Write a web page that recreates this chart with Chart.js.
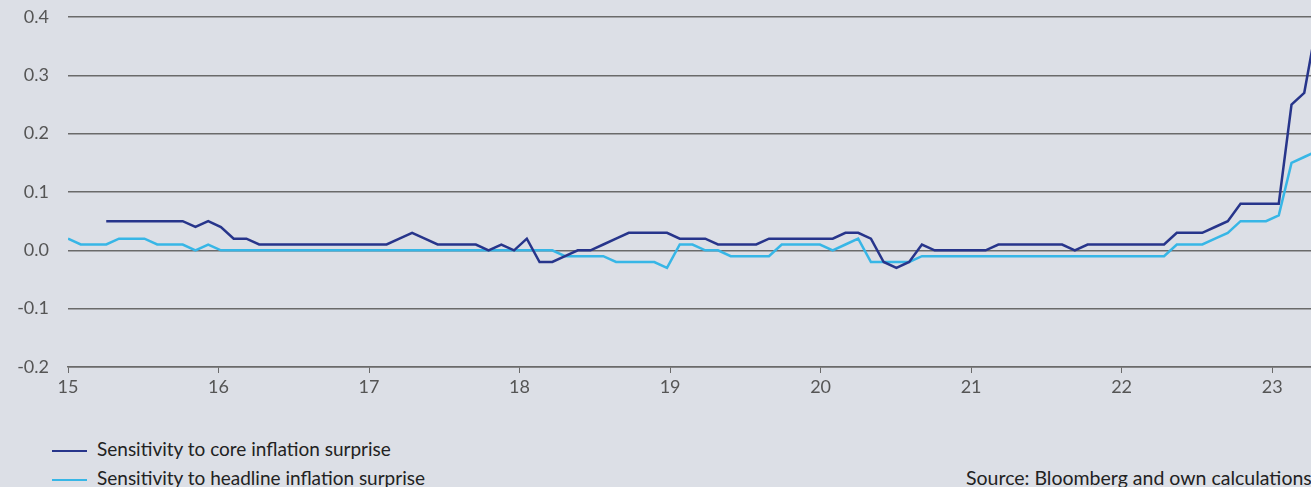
<!DOCTYPE html>
<html>
<head>
<meta charset="utf-8">
<script src="https://cdn.jsdelivr.net/npm/chart.js@4.4.1/dist/chart.umd.min.js"></script>
<style>
  html, body { margin: 0; padding: 0; background: #dcdfe6; overflow: hidden; width: 1311px; height: 487px; }
  #wrap { position: absolute; left: 0; top: 0; width: 1330px; height: 410px; }
  .legend { position: absolute; left: 52px; top: 434px; font-family: Lato, sans-serif; font-size: 19px; color: #222; }
  .legend div { height: 29px; line-height: 29px; white-space: nowrap; }
  .legend span { display: inline-block; width: 35px; height: 2.5px; vertical-align: middle; margin-right: 10px; }
  .source { position: absolute; left: 966px; top: 463px; font-family: Lato, sans-serif; font-size: 19.5px; color: #222; white-space: nowrap; line-height: 29px; }
</style>
</head>
<body>
<div id="wrap"><canvas id="grafico" width="1330" height="410"></canvas></div>
<div class="legend" id="legenda"></div>
<div class="source">Source: Bloomberg and own calculations</div>
<script>
// eixos
const yearTicks = [15, 16, 17, 18, 19, 20, 21, 22, 23];
const yTicks = [-0.2, -0.1, 0.0, 0.1, 0.2, 0.3, 0.4];
const startYear = 15;
const pointsPerYear = 11.81; // espaçamento das observações no gráfico original

// séries
const coreSensitivity = [
  null, null, null, 0.05, 0.05, 0.05, 0.05, 0.05, 0.05, 0.05,
  0.04, 0.05, 0.04, 0.02, 0.02, 0.01, 0.01, 0.01, 0.01, 0.01,
  0.01, 0.01, 0.01, 0.01, 0.01, 0.01, 0.02, 0.03, 0.02, 0.01,
  0.01, 0.01, 0.01, 0.00, 0.01, 0.00, 0.02, -0.02, -0.02, -0.01,
  0.00, 0.00, 0.01, 0.02, 0.03, 0.03, 0.03, 0.03, 0.02, 0.02,
  0.02, 0.01, 0.01, 0.01, 0.01, 0.02, 0.02, 0.02, 0.02, 0.02,
  0.02, 0.03, 0.03, 0.02, -0.02, -0.03, -0.02, 0.01, 0.00, 0.00,
  0.00, 0.00, 0.00, 0.01, 0.01, 0.01, 0.01, 0.01, 0.01, 0.00,
  0.01, 0.01, 0.01, 0.01, 0.01, 0.01, 0.01, 0.03, 0.03, 0.03,
  0.04, 0.05, 0.08, 0.08, 0.08, 0.08, 0.25, 0.27, 0.39
];
const headlineSensitivity = [
  0.02, 0.01, 0.01, 0.01, 0.02, 0.02, 0.02, 0.01, 0.01, 0.01,
  0.00, 0.01, 0.00, 0.00, 0.00, 0.00, 0.00, 0.00, 0.00, 0.00,
  0.00, 0.00, 0.00, 0.00, 0.00, 0.00, 0.00, 0.00, 0.00, 0.00,
  0.00, 0.00, 0.00, 0.00, 0.00, 0.00, 0.00, 0.00, 0.00, -0.01,
  -0.01, -0.01, -0.01, -0.02, -0.02, -0.02, -0.02, -0.03, 0.01, 0.01,
  0.00, 0.00, -0.01, -0.01, -0.01, -0.01, 0.01, 0.01, 0.01, 0.01,
  0.00, 0.01, 0.02, -0.02, -0.02, -0.02, -0.02, -0.01, -0.01, -0.01,
  -0.01, -0.01, -0.01, -0.01, -0.01, -0.01, -0.01, -0.01, -0.01, -0.01,
  -0.01, -0.01, -0.01, -0.01, -0.01, -0.01, -0.01, 0.01, 0.01, 0.01,
  0.02, 0.03, 0.05, 0.05, 0.05, 0.06, 0.15, 0.16, 0.17
];
const seriesLabels = ["Sensitivity to core inflation surprise", "Sensitivity to headline inflation surprise"];
const seriesColors = ["#27358b", "#37b6e6"];

const tickFont = { family: "Lato, sans-serif", size: 18, weight: 400 };

function pontos(valores) {
  return valores.map((v, i) => ({ x: startYear + i / pointsPerYear, y: v }));
}

function desenharGrafico() {
  const ctx = document.getElementById("grafico").getContext("2d");
  const lastX = startYear + (coreSensitivity.length - 1) / pointsPerYear;
  new Chart(ctx, {
    type: "line",
    data: {
      datasets: [
        { label: seriesLabels[0], data: pontos(coreSensitivity), borderColor: seriesColors[0], backgroundColor: seriesColors[0] },
        { label: seriesLabels[1], data: pontos(headlineSensitivity), borderColor: seriesColors[1], backgroundColor: seriesColors[1] }
      ]
    },
    options: {
      responsive: false,
      animation: false,
      layout: { padding: { top: 17, right: 13, left: 0, bottom: 0 } },
      plugins: { legend: { display: false }, tooltip: { enabled: false } },
      elements: { point: { radius: 0 }, line: { borderWidth: 2.5, tension: 0 } },
      scales: {
        x: {
          type: "linear",
          min: startYear,
          max: lastX,
          afterBuildTicks: (s) => { s.ticks = yearTicks.map((v) => ({ value: v })); },
          afterFit: (s) => { s.height = 43; },
          grid: { drawOnChartArea: false, drawTicks: true, tickLength: 6, color: "#6a6a6a", lineWidth: 1 },
          border: { display: true, color: "#6a6a6a", width: 1.5 },
          ticks: { color: "#555", font: tickFont, padding: 3, maxRotation: 0, callback: (v) => String(v) }
        },
        y: {
          min: -0.2,
          max: 0.4,
          afterBuildTicks: (s) => { s.ticks = yTicks.map((v) => ({ value: v })); },
          afterFit: (s) => { s.width = 68; },
          grid: { drawTicks: true, tickLength: 19, tickColor: "rgba(0,0,0,0)", color: "#6a6a6a", lineWidth: 1.5 },
          border: { display: false },
          ticks: { color: "#555", font: tickFont, padding: 0, callback: (v) => v.toFixed(1) }
        }
      }
    }
  });

  const leg = document.getElementById("legenda");
  seriesLabels.forEach((t, i) => {
    const row = document.createElement("div");
    const mark = document.createElement("span");
    mark.style.background = seriesColors[i];
    row.appendChild(mark);
    row.appendChild(document.createTextNode(t));
    leg.appendChild(row);
  });
}

window.addEventListener("DOMContentLoaded", desenharGrafico);
</script>
</body>
</html>
